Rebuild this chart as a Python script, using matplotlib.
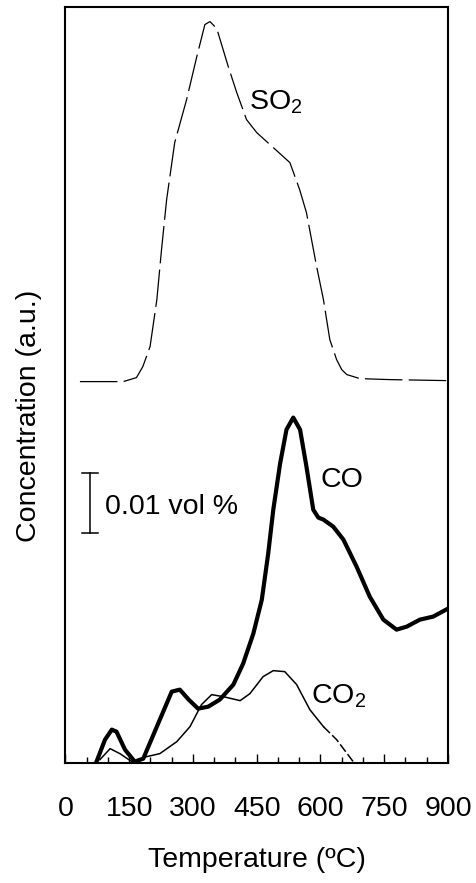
import numpy as np
import matplotlib
matplotlib.use("Agg")
import matplotlib.pyplot as plt

plt.rcParams['font.family'] = ['Liberation Sans', 'DejaVu Sans']
plt.rcParams['mathtext.default'] = 'regular'

# temperature (C) / signal (arbitrary units)
so2_t = [34, 136, 167, 182, 199, 215, 226, 238, 257, 285, 309, 328, 340, 356, 383, 403,
         426, 450, 489, 528, 551, 567, 591, 607, 622, 638, 650, 662, 693, 763, 897]
so2_y = [381, 381, 385, 396, 416, 463, 513, 563, 620, 663, 706, 738, 741, 734, 696, 670,
         643, 630, 615, 600, 573, 550, 496, 463, 423, 403, 393, 388, 384, 383, 382]

co_t = [73, 93, 109, 120, 140, 163, 183, 215, 250, 269, 290, 312, 336, 363, 395, 418, 442,
        462, 477, 489, 505, 520, 536, 552, 567, 583, 595, 607, 630, 654, 685, 716, 748,
        779, 803, 834, 865, 900]
co_y = [1, 23, 33, 31, 13, 1, 4, 36, 71, 73, 63, 54, 56, 63, 78, 99, 129,
        163, 209, 253, 299, 333, 345, 333, 296, 253, 245, 243, 236, 223, 196, 166, 143,
        133, 136, 143, 146, 154]

co2_t = [81, 105, 128, 156, 191, 222, 262, 293, 320, 344, 371, 411, 434, 465, 489,
         516, 544, 575, 607]
co2_y = [3, 14, 9, 1, 6, 9, 21, 36, 58, 68, 66, 62, 69, 86, 92,
         91, 78, 53, 36]
co2_tail_t = [607, 638, 677]
co2_tail_y = [36, 23, 1]

fig = plt.figure(figsize=(4.77, 8.83), dpi=100)
ax = fig.add_axes([0.1373, 0.1363, 0.8018, 0.8558])

ax.plot(so2_t, so2_y, color='black', lw=0.9, dashes=(30, 5))
ax.plot(co_t, co_y, color='black', lw=3.0, solid_joinstyle='round')
ax.plot(co2_t, co2_y, color='black', lw=1.1)
ax.plot(co2_tail_t, co2_tail_y, color='black', lw=1.1, dashes=(6, 2))

# scale bar
ax.plot([58, 58], [230, 290], color='black', lw=1.1)
ax.plot([39, 77], [290, 290], color='black', lw=1.1)
ax.plot([39, 77], [230, 230], color='black', lw=1.1)
ax.text(93, 256, '0.01 vol %', fontsize=20.5, va='center', ha='left')

ax.text(432, 660, 'SO$_2$', fontsize=20.5, va='center', ha='left')
ax.text(599, 283, 'CO', fontsize=20.5, va='center', ha='left')
ax.text(578, 66, 'CO$_2$', fontsize=20.5, va='center', ha='left')

ax.set_xlim(0, 900)
ax.set_ylim(0, 755.6)
ax.set_xticks(np.arange(0, 901, 150))
ax.set_xticks(np.arange(0, 901, 50), minor=True)
ax.set_yticks([])
ax.tick_params(axis='x', which='major', direction='in', length=6.5, width=1,
               labelsize=20.5, pad=24)
ax.tick_params(axis='x', which='minor', direction='in', length=4.5, width=1)
for s in ax.spines.values():
    s.set_linewidth(1.5)

ax.set_xlabel('Temperature (ºC)', fontsize=20.5, labelpad=18)
ax.set_ylabel('Concentration (a.u.)', fontsize=20.5)
ax.yaxis.set_label_coords(-0.062, 0.459)

fig.savefig('out.png', dpi=100)
